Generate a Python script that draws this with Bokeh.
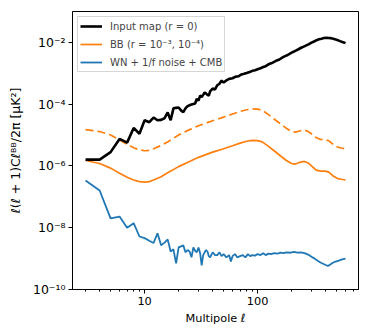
from bokeh.plotting import figure
from bokeh.models import FixedTicker, Legend, LegendItem, Range1d
from bokeh.embed import file_html
from bokeh.resources import INLINE

# ---------------- data ----------------
black_l = [3, 4, 5, 6, 7, 8, 9, 10, 11, 12, 13, 14, 15, 16, 17, 18, 19, 20, 21, 22, 23, 24, 25, 26, 27, 28,
           29, 30, 31, 32, 33, 34, 35, 36, 37, 38, 40, 42, 44, 46, 48, 50, 53, 56, 60, 64, 68, 72, 76, 80,
           85, 90, 95, 100, 106, 112, 118, 125, 132, 140, 148, 156, 165, 175, 185, 195, 206, 218, 230, 243,
           256, 270, 285, 300, 316, 333, 350, 368, 386, 405, 425, 446, 468, 490, 513, 537, 562, 588, 600]
black_v = [1.6e-6, 1.6e-6, 2.8e-6, 7.5e-6, 5.7e-6, 1.7e-5, 1.1e-5, 3.0e-5, 2.6e-5, 3.7e-5, 3.0e-5, 3.1e-5,
           3.5e-5, 5.4e-5, 3.0e-5, 7.3e-5, 7.6e-5, 7.8e-5, 6.3e-5, 5.5e-5, 7.3e-5, 8.6e-5, 9.2e-5, 9.8e-5,
           1.02e-4, 1.05e-4, 1.5e-4, 1.3e-4, 1.9e-4, 1.7e-4, 2.0e-4, 2.4e-4, 2.2e-4, 2.0e-4, 1.9e-4, 2.6e-4,
           3.2e-4, 3.0e-4, 4.1e-4, 4.6e-4, 5.8e-4, 5.0e-4, 5.9e-4, 6.6e-4, 6.9e-4, 7.8e-4, 8.0e-4, 9.2e-4,
           9.6e-4, 1.02e-3, 1.1e-3, 1.2e-3, 1.25e-3, 1.35e-3, 1.45e-3, 1.6e-3, 1.7e-3, 1.95e-3, 2.1e-3,
           2.35e-3, 2.6e-3, 2.8e-3, 3.2e-3, 3.6e-3, 3.9e-3, 4.4e-3, 4.9e-3, 5.4e-3, 6.0e-3, 6.7e-3, 7.3e-3,
           8.0e-3, 8.8e-3, 9.8e-3, 1.07e-2, 1.18e-2, 1.26e-2, 1.32e-2, 1.38e-2, 1.40e-2, 1.39e-2, 1.37e-2,
           1.32e-2, 1.25e-2, 1.18e-2, 1.10e-2, 1.03e-2, 9.8e-3, 9.5e-3]

bb_l = [3, 4, 5, 6, 7, 8, 9, 10, 11, 12, 14, 16, 20, 25, 30, 40, 50, 60, 70, 80, 90, 100, 110, 125, 140,
        160, 180, 200, 215, 235, 260, 280, 305, 330, 360, 400, 430, 470, 510, 550, 600]
bb_r1e3 = [1.5e-5, 1.3e-5, 1.0e-5, 7.0e-6, 5.0e-6, 3.9e-6, 3.3e-6, 3.1e-6, 3.2e-6, 3.6e-6, 4.6e-6, 6.0e-6,
           1.0e-5, 1.5e-5, 2.0e-5, 2.9e-5, 3.8e-5, 4.8e-5, 5.8e-5, 6.6e-5, 7.0e-5, 6.9e-5, 6.3e-5, 4.6e-5,
           3.3e-5, 2.3e-5, 1.65e-5, 1.3e-5, 1.25e-5, 1.35e-5, 1.45e-5, 1.3e-5, 1.05e-5, 8.3e-6, 7.2e-6,
           7.0e-6, 6.4e-6, 4.9e-6, 4.1e-6, 3.8e-6, 3.6e-6]
bb_r1e4 = [1.5e-6, 1.2e-6, 8.5e-7, 5.8e-7, 4.3e-7, 3.5e-7, 3.1e-7, 3.0e-7, 3.1e-7, 3.5e-7, 4.5e-7, 6.0e-7,
           9.5e-7, 1.4e-6, 1.9e-6, 2.8e-6, 3.6e-6, 4.5e-6, 5.5e-6, 6.3e-6, 6.7e-6, 6.6e-6, 6.0e-6, 4.3e-6,
           3.1e-6, 2.1e-6, 1.5e-6, 1.2e-6, 1.15e-6, 1.3e-6, 1.4e-6, 1.25e-6, 9.5e-7, 7.3e-7, 6.8e-7,
           6.8e-7, 6.2e-7, 4.6e-7, 3.9e-7, 3.7e-7, 3.5e-7]

wn_l = [3, 4, 5, 6, 7, 8, 9, 10, 11, 12, 13, 14, 15, 16, 17, 18, 19, 20, 21, 22, 23, 24, 25, 26, 27, 28, 29,
        30, 31, 32, 33, 34, 35, 36, 37, 38, 40, 42, 44, 46, 48, 50, 53, 56, 58, 60, 63, 66, 70, 74, 78, 82,
        86, 90, 95, 100, 106, 112, 118, 125, 132, 140, 150, 160, 170, 180, 195, 210, 225, 240, 260, 280,
        300, 320, 340, 360, 380, 400, 420, 440, 460, 480, 500, 530, 560, 600]
wn_v = [3.4e-7, 1.6e-7, 2.0e-8, 2.3e-8, 1.0e-8, 1.4e-8, 5.2e-9, 4.6e-9, 3.8e-9, 3.2e-9, 6.6e-9, 2.7e-9,
        3.3e-9, 4.2e-9, 1.7e-9, 2.0e-9, 7.0e-10, 2.3e-9, 2.5e-9, 2.7e-9, 1.6e-9, 1.9e-9, 1.7e-9, 1.1e-9,
        2.3e-9, 1.8e-9, 1.6e-9, 2.3e-9, 1.5e-9, 6.0e-10, 1.3e-9, 1.6e-9, 1.9e-9, 1.7e-9, 1.2e-9, 1.1e-9,
        1.6e-9, 1.3e-9, 1.3e-9, 1.6e-9, 1.2e-9, 1.4e-9, 1.1e-9, 1.3e-9, 8.0e-10, 1.2e-9, 1.4e-9, 1.1e-9,
        1.2e-9, 1.3e-9, 1.1e-9, 1.4e-9, 1.2e-9, 1.3e-9, 1.25e-9, 1.4e-9, 1.3e-9, 1.5e-9, 1.3e-9, 1.45e-9,
        1.4e-9, 1.5e-9, 1.45e-9, 1.55e-9, 1.5e-9, 1.6e-9, 1.55e-9, 1.65e-9, 1.55e-9, 1.6e-9, 1.5e-9,
        1.35e-9, 1.15e-9, 1.0e-9, 8.5e-10, 7.5e-10, 6.8e-10, 6.2e-10, 5.8e-10, 6.5e-10, 7.2e-10, 7.8e-10,
        8.2e-10, 8.8e-10, 9.5e-10, 1.0e-9]

x_major = [10, 100]
x_major_labels = ["10", "100"]
x_minor = [3, 4, 5, 6, 7, 8, 9, 20, 30, 40, 50, 60, 70, 80, 90, 200, 300, 400, 500, 600, 700]
y_major = [1e-10, 1e-8, 1e-6, 1e-4, 1e-2]
y_major_labels = ["10\u207b\u00b9\u2070", "10\u207b\u2078", "10\u207b\u2076", "10\u207b\u2074", "10\u207b\u00b2"]

labels = ["Input map (r = 0)", "BB (r = 10\u207b\u00b3, 10\u207b\u2074)", "WN + 1/f noise + CMB"]

# ---------------- figure ----------------
FONT = "DejaVu Sans"
p = figure(width=361, height=328, x_axis_type="log", y_axis_type="log",
           x_range=Range1d(2.3, 782), y_range=Range1d(1e-10, 1e-1),
           output_backend="svg", toolbar_location=None,
           min_border_left=72, min_border_right=3, min_border_top=11, min_border_bottom=39)
p.grid.visible = False
p.outline_line_color = "black"
p.outline_line_width = 1
p.background_fill_color = "white"

p.xaxis.ticker = FixedTicker(ticks=x_major, minor_ticks=x_minor)
p.xaxis.major_label_overrides = {t: s for t, s in zip(x_major, x_major_labels)}
p.yaxis.ticker = FixedTicker(ticks=y_major, minor_ticks=[])
p.yaxis.major_label_overrides = {t: s for t, s in zip(y_major, y_major_labels)}

for ax in (p.xaxis[0], p.yaxis[0]):
    ax.axis_line_color = "black"
    ax.major_tick_line_color = "black"
    ax.minor_tick_line_color = "black"
    ax.major_tick_out = 4
    ax.major_tick_in = 0
    ax.minor_tick_out = 2
    ax.minor_tick_in = 0
    ax.major_label_text_font = FONT
    ax.major_label_text_font_size = "11.3px"
    ax.major_label_text_color = "black"
    ax.axis_label_text_font = FONT
    ax.axis_label_text_font_size = "11.3px"
    ax.axis_label_text_font_style = "normal"
    ax.axis_label_text_color = "black"

p.yaxis.major_label_text_font_size = "12.5px"
p.yaxis.axis_label_text_font_size = "12.5px"
p.xaxis.axis_label = "Multipole \u2113"
p.xaxis.major_label_standoff = 3
p.xaxis.axis_label_standoff = 4
p.yaxis.axis_label = "\u2113(\u2113 + 1)C\u2113\u1d2e\u1d2e/2\u03c0 [\u03bcK\u00b2]"
p.yaxis.major_label_standoff = 3
p.yaxis.axis_label_standoff = 7

ORANGE = "#ff7f0e"
BLUE = "#1f77b4"
r_dash = p.line(bb_l, bb_r1e3, line_color=ORANGE, line_width=1.7, line_dash="8 4")
r_bb = p.line(bb_l, bb_r1e4, line_color=ORANGE, line_width=1.7)
r_wn = p.line(wn_l, wn_v, line_color=BLUE, line_width=1.8)
r_in = p.line(black_l, black_v, line_color="black", line_width=2.6)

legend = Legend(items=[LegendItem(label=labels[0], renderers=[r_in]),
                       LegendItem(label=labels[1], renderers=[r_bb]),
                       LegendItem(label=labels[2], renderers=[r_wn])],
                location="top_left", margin=5, padding=2, spacing=4,
                label_text_font=FONT, label_text_font_size="10px",
                label_height=14, glyph_height=14, glyph_width=22, label_standoff=8,
                border_line_color="#cccccc", border_line_alpha=0.8,
                background_fill_alpha=0.8)
p.add_layout(legend)

open("out.html", "w").write(file_html(p, INLINE))
